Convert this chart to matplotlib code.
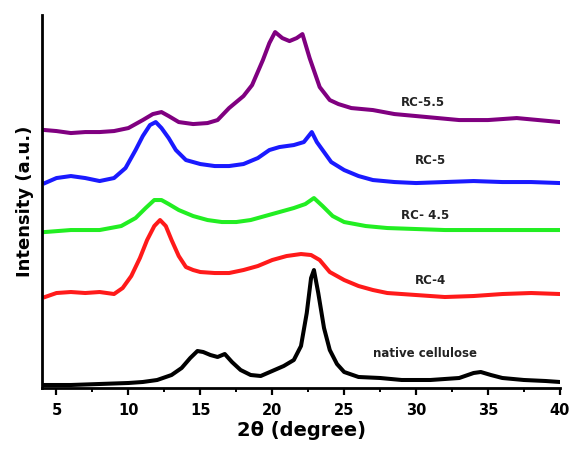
import matplotlib.pyplot as plt
from matplotlib.ticker import MultipleLocator

# two-theta positions (degree) and stacked intensities (a.u.)
tt_native = [4.2, 6, 8, 10, 11, 12, 13, 13.7, 14.3, 14.8, 15.2, 15.7, 16.2, 16.7, 17.2, 17.8,
             18.5, 19.2, 20, 20.8, 21.5, 22, 22.4, 22.7, 22.9, 23.2, 23.6, 24, 24.5, 25,
             26, 27.5, 29, 31, 33, 34, 34.5, 35.2, 36, 37.5, 39, 40]
native = [3, 3, 4, 5, 6, 8, 13, 20, 30, 37, 36, 33, 31, 34, 26, 18,
          13, 12, 17, 22, 28, 42, 75, 110, 118, 95, 60, 38, 24, 16,
          11, 10, 8, 8, 10, 15, 16, 13, 10, 8, 7, 6]

tt_rc4 = [4.2, 5, 6, 7, 8, 9, 9.6, 10.2, 10.8, 11.3, 11.8, 12.2, 12.6, 13, 13.5, 14, 14.5, 15,
          16, 17, 18, 19, 20, 21, 22, 22.7, 23.3, 24, 25, 26, 27, 28, 30, 32, 34, 36, 38, 40]
rc4 = [91, 95, 96, 95, 96, 94, 100, 112, 130, 148, 162, 168, 162, 148, 132, 121, 118, 116,
       115, 115, 118, 122, 128, 132, 134, 133, 128, 116, 108, 102, 98, 95, 93, 91, 92, 94, 95, 94]

tt_rc45 = [4.2, 6, 8, 9.5, 10.5, 11.2, 11.8, 12.3, 12.8, 13.5, 14.5, 15.5, 16.5, 17.5, 18.5,
           19.5, 20.5, 21.5, 22.3, 22.9, 23.5, 24.2, 25, 26.5, 28, 30, 32, 34, 36, 38, 40]
rc45 = [156, 158, 158, 162, 170, 180, 188, 188, 184, 178, 172, 168, 166, 166, 168,
        172, 176, 180, 184, 190, 182, 172, 166, 162, 160, 159, 158, 158, 158, 158, 158]

tt_rc5 = [4.2, 5, 6, 7, 8, 9, 9.8, 10.5, 11, 11.5, 11.9, 12.3, 12.8, 13.3, 14, 15, 16, 17,
          18, 19, 19.8, 20.5, 21.5, 22.2, 22.75, 23.1, 23.6, 24.1, 25, 26, 27, 28.5, 30, 32, 34,
          36, 38, 40]
rc5 = [205, 210, 212, 210, 207, 210, 220, 238, 252, 263, 266, 260, 250, 238, 228, 224, 222, 222,
       224, 230, 238, 241, 243, 246, 256, 246, 236, 226, 218, 212, 208, 206, 205, 206, 207,
       206, 206, 205]

tt_rc55 = [4.2, 5, 6, 7, 8, 9, 10, 11, 11.7, 12.3, 12.8, 13.5, 14.5, 15.5, 16.2, 17, 18,
           18.6, 19.35, 19.8, 20.2, 20.7, 21.2, 21.7, 22.1, 22.6, 23.3, 24, 24.6, 25.5, 27,
           28.5, 30, 31.5, 33, 35, 37, 38.5, 40]
rc55 = [258, 257, 255, 256, 256, 257, 260, 268, 274, 276, 272, 266, 264, 265, 268, 280, 292,
        303, 328, 345, 356, 350, 347, 350, 354, 330, 301, 288, 284, 280, 278,
        274, 272, 270, 268, 268, 270, 268, 266]

curves = [
    (tt_native, native, 'black'),
    (tt_rc4, rc4, '#ff1a1a'),
    (tt_rc45, rc45, '#22ee22'),
    (tt_rc5, rc5, '#1a1aff'),
    (tt_rc55, rc55, '#800080'),
]

labels = ['RC-5.5', 'RC-5', 'RC- 4.5', 'RC-4', 'native cellulose']
label_x = [30.5, 31.0, 30.6, 31.0, 30.6]
label_y = [286, 228, 173, 108, 35]

fig = plt.figure(figsize=(5.69, 4.57), dpi=100)
ax = fig.add_axes([0.074, 0.151, 0.910, 0.816])

for tt, inten, col in curves:
    ax.plot(tt, inten, color=col, lw=2.9, solid_joinstyle='round')

for txt, lx, ly in zip(labels, label_x, label_y):
    ax.text(lx, ly, txt, ha='center', va='center', fontsize=8.5,
            fontweight='bold', color='#222222')

ax.set_xlim(4, 40)
ax.set_ylim(0, 373)
ax.xaxis.set_major_locator(MultipleLocator(5))
ax.xaxis.set_minor_locator(MultipleLocator(2.5))
ax.tick_params(axis='x', which='major', length=5, width=1.6, labelsize=10.5, pad=6)
ax.tick_params(axis='x', which='minor', length=3, width=1.4)
for lab in ax.get_xticklabels():
    lab.set_fontweight('bold')
ax.set_yticks([])

ax.spines['top'].set_visible(False)
ax.spines['right'].set_visible(False)
ax.spines['left'].set_linewidth(2)
ax.spines['bottom'].set_linewidth(2)

ax.set_xlabel('2θ (degree)', fontsize=14, fontweight='bold', labelpad=2)
ax.set_ylabel('Intensity (a.u.)', fontsize=13, fontweight='bold', labelpad=6)

fig.savefig('out.png', dpi=100)
